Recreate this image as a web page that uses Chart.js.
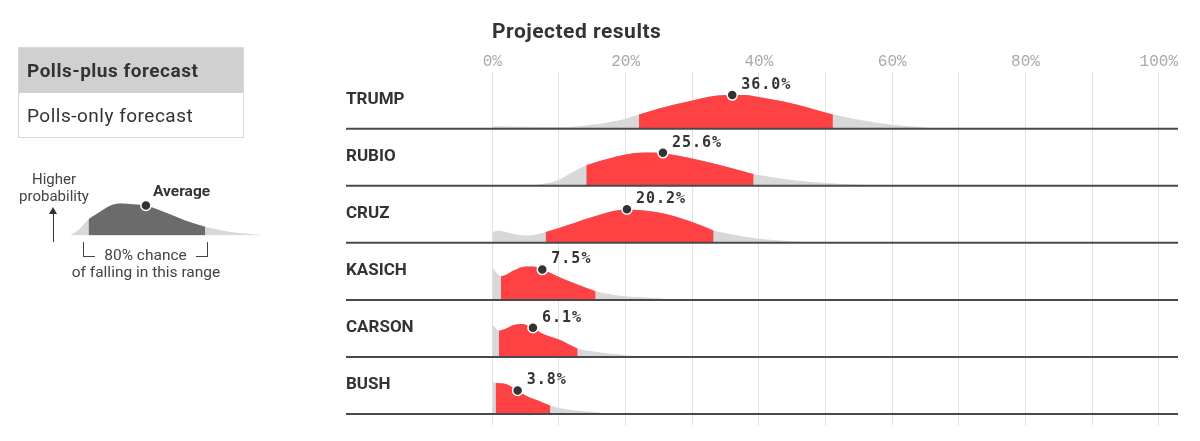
<!DOCTYPE html>
<html>
<head>
<meta charset="utf-8">
<script src="https://cdn.jsdelivr.net/npm/chart.js@4.4.1/dist/chart.umd.min.js"></script>
<style>
  body { margin: 0; background: #fff; font-family: Roboto, "Noto Sans", sans-serif; color: #333; }
  #page { position: relative; width: 1200px; height: 441px; overflow: hidden; }
  #mainChart { position: absolute; left: 0; top: 0; }
  .title { position: absolute; left: 492px; top: 19px; font-size: 21px; font-weight: bold; line-height: 24px; letter-spacing: 0.5px; color: #333; }
  .toggle { position: absolute; left: 18px; top: 47px; width: 224px; border: 1px solid #d9d9d9; }
  .opt { height: 44.5px; line-height: 45px; padding-left: 8px; font-size: 19px; letter-spacing: 0.5px; color: #333; }
  .opt.on { background: #d0d0d0; font-weight: bold; }
  #keyChart { position: absolute; left: 63px; top: 190px; }
  .key-text { position: absolute; font-size: 15px; line-height: 17px; color: #444; text-align: center; }
  .arrow-line { position: absolute; left: 52.5px; top: 213px; width: 1.5px; height: 29px; background: #333; }
  .arrow-head { position: absolute; left: 49.3px; top: 207px; width: 0; height: 0;
    border-left: 4px solid transparent; border-right: 4px solid transparent; border-bottom: 7px solid #333; }
  .bracket { position: absolute; top: 242px; width: 11px; height: 14px; border-bottom: 1.5px solid #444; }
  .bracket.l { left: 83px; border-left: 1.5px solid #444; }
  .bracket.r { left: 196px; border-right: 1.5px solid #444; }
</style>
</head>
<body>
<div id="page">
  <canvas id="mainChart" width="1200" height="441"></canvas>
  <div class="title">Projected results</div>

  <div class="toggle">
    <div class="opt on">Polls-plus forecast</div>
    <div class="opt">Polls-only forecast</div>
  </div>

  <div class="key-text" style="left:9px; top:171px; width:90px;">Higher<br>probability</div>
  <div class="arrow-head"></div>
  <div class="arrow-line"></div>
  <canvas id="keyChart" width="204" height="52"></canvas>
  <div class="key-text" style="left:153px; top:183px; font-weight:bold; font-size:15.5px; color:#333;">Average</div>
  <div class="bracket l"></div>
  <div class="bracket r"></div>
  <div class="key-text" style="left:95px; top:247px; width:101px; font-size:15.5px;">80% chance</div>
  <div class="key-text" style="left:46px; top:264px; width:200px; font-size:15.5px;">of falling in this range</div>
</div>

<script>
// Candidates, top to bottom
const candidates = ["TRUMP", "RUBIO", "CRUZ", "KASICH", "CARSON", "BUSH"];

// Projected vote share (average) and 80% range, in percent
const averages = [36.0, 25.6, 20.2, 7.5, 6.1, 3.8];
const rangeLow = [22.0, 14.1, 8.0, 1.3, 1.0, 0.5];
const rangeHigh = [51.1, 39.2, 33.2, 15.5, 12.8, 8.7];
// relative probability at the average (1 = peak of the row)
const avgDensity = [1.0, 0.98, 1.0, 0.9, 0.87, 0.7];

// Probability curves: vote share (%) and relative probability
const trumpPct = [0, 2, 5, 10, 15, 20, 22, 25, 30, 35, 38, 40, 45, 50, 51.1, 55, 60, 65, 68];
const trumpDensity = [0.07, 0.07, 0.06, 0.05, 0.12, 0.3, 0.42, 0.6, 0.84, 1.0, 1.0, 0.94, 0.75, 0.48, 0.42, 0.27, 0.12, 0.04, 0];

const rubioPct = [4.7, 7.5, 10, 12, 14.1, 15, 20, 22.7, 25.6, 30, 35, 39.2, 40, 45, 50, 55, 58];
const rubioDensity = [0, 0.05, 0.18, 0.4, 0.61, 0.67, 0.93, 0.99, 0.97, 0.81, 0.57, 0.35, 0.32, 0.17, 0.08, 0.03, 0];

const cruzPct = [0, 0.9, 3, 5, 6.5, 8, 10, 15, 20, 25, 30, 33.2, 35, 40, 45, 50];
const cruzDensity = [0.32, 0.37, 0.27, 0.22, 0.24, 0.32, 0.44, 0.77, 0.99, 0.9, 0.62, 0.37, 0.29, 0.12, 0.05, 0];

const kasichPct = [0, 1.3, 1.9, 3.2, 5, 6.1, 7.5, 10, 12.5, 15.5, 20, 25, 27];
const kasichDensity = [0.96, 0.7, 0.73, 0.87, 0.99, 0.99, 0.9, 0.68, 0.48, 0.26, 0.11, 0.05, 0];

const carsonPct = [0, 1.0, 1.9, 3.2, 4.4, 6.1, 7.5, 10, 12.8, 15, 20, 22];
const carsonDensity = [0.98, 0.78, 0.83, 0.95, 0.98, 0.87, 0.7, 0.52, 0.25, 0.17, 0.05, 0];

const bushPct = [0, 0.5, 1.9, 2.9, 3.8, 5, 7.5, 8.7, 10, 15, 18];
const bushDensity = [0.98, 0.92, 0.9, 0.81, 0.7, 0.55, 0.35, 0.25, 0.18, 0.06, 0];

const curvePct = [trumpPct, rubioPct, cruzPct, kasichPct, carsonPct, bushPct];
const curveDensity = [trumpDensity, rubioDensity, cruzDensity, kasichDensity, carsonDensity, bushDensity];

// Axis ticks (gridlines every 10, labels every 20)
const gridTicks = [0, 10, 20, 30, 40, 50, 60, 70, 80, 90, 100];

// Key illustration curve
const keyX = [0, 5, 10, 15, 21.5, 27, 33, 40, 51, 60.6, 71, 83.5, 100];
const keyDensity = [0, 0.19, 0.51, 0.7, 0.94, 1.0, 0.98, 0.94, 0.7, 0.47, 0.27, 0.12, 0.02];
const keyRange = [10, 71];
const keyAverage = 40;
const keyAvgDensity = 0.94;

const colors = {
  red: "#fe4142",
  tail: "#d8d8d8",
  dark: "#333333",
  keyDark: "#6b6b6b",
  baseline: "#4a4a4a",
  grid: "rgba(0, 0, 0, 0.11)",
  tick: "#a8a8a8",
};

const PEAK = 0.59; // curve peak height as share of a row

function rowBase(i) {
  return candidates.length - 1 - i;
}

function buildDatasets() {
  const sets = [];
  candidates.forEach((name, i) => {
    const base = rowBase(i);
    const pts = curvePct[i].map((x, j) => ({ x: x, y: base + curveDensity[i][j] * PEAK }));
    sets.push({
      data: pts,
      fill: { value: base },
      backgroundColor: colors.tail,
      borderColor: "transparent",
      borderWidth: 0,
      pointRadius: 0,
      cubicInterpolationMode: "monotone",
      order: 3,
    });
    sets.push({
      data: pts.filter((p) => p.x >= rangeLow[i] && p.x <= rangeHigh[i]),
      fill: { value: base },
      backgroundColor: colors.red,
      borderColor: "transparent",
      borderWidth: 0,
      pointRadius: 0,
      cubicInterpolationMode: "monotone",
      order: 2,
    });
  });
  sets.push({
    data: candidates.map((n, i) => ({ x: averages[i], y: rowBase(i) + avgDensity[i] * PEAK })),
    showLine: false,
    pointRadius: 5,
    pointBackgroundColor: colors.dark,
    pointBorderColor: "#fff",
    pointBorderWidth: 1.5,
    order: 1,
  });
  return sets;
}

// Row names, baselines and average labels
const rowPlugin = {
  id: "rows",
  afterDraw(chart) {
    const ctx = chart.ctx;
    const area = chart.chartArea;
    const x = chart.scales.x;
    const y = chart.scales.y;
    ctx.save();
    candidates.forEach((name, i) => {
      const by = y.getPixelForValue(rowBase(i));
      ctx.strokeStyle = colors.baseline;
      ctx.lineWidth = 2;
      ctx.beginPath();
      ctx.moveTo(area.left, by);
      ctx.lineTo(area.right, by);
      ctx.stroke();

      ctx.fillStyle = colors.dark;
      ctx.font = "bold 17px Roboto, sans-serif";
      ctx.textAlign = "left";
      ctx.textBaseline = "middle";
      ctx.letterSpacing = "0px";
      ctx.fillText(name, area.left, by - 29);

      const px = x.getPixelForValue(averages[i]);
      const py = y.getPixelForValue(rowBase(i) + avgDensity[i] * PEAK);
      ctx.font = "bold 15px 'DejaVu Sans Mono', monospace";
      ctx.letterSpacing = "1px";
      ctx.fillText(averages[i].toFixed(1) + "%", px + 9, py - 10);
    });
    ctx.restore();
  },
};

function initMainChart() {
  const el = document.getElementById("mainChart");
  new Chart(el, {
    type: "line",
    data: { datasets: buildDatasets() },
    options: {
      responsive: false,
      animation: false,
      layout: { padding: { left: 346, right: 22, top: 52.5, bottom: 15.6 } },
      scales: {
        x: {
          type: "linear",
          position: "top",
          min: -21.95,
          max: 102.88,
          z: 1,
          afterBuildTicks: (axis) => {
            axis.ticks = gridTicks.map((v) => ({ value: v }));
          },
          ticks: {
            autoSkip: false,
            maxRotation: 0,
            padding: 0,
            color: colors.tick,
            font: { family: "'Liberation Mono', monospace", size: 16 },
            callback: (v) => (v % 20 === 0 ? v + "%" : ""),
          },
          grid: { color: colors.grid, drawTicks: false },
          border: { display: false },
        },
        y: { type: "linear", display: false, min: -0.2, max: 6 },
      },
      plugins: {
        legend: { display: false },
        tooltip: { enabled: false },
      },
    },
    plugins: [rowPlugin],
  });
}

function initKeyChart() {
  const el = document.getElementById("keyChart");
  const pts = keyX.map((x, j) => ({ x: x, y: keyDensity[j] }));
  new Chart(el, {
    type: "line",
    data: {
      datasets: [
        {
          data: pts,
          fill: { value: 0 },
          backgroundColor: colors.tail,
          borderColor: "transparent",
          borderWidth: 0,
          pointRadius: 0,
          cubicInterpolationMode: "monotone",
          order: 3,
        },
        {
          data: pts.filter((p) => p.x >= keyRange[0] && p.x <= keyRange[1]),
          fill: { value: 0 },
          backgroundColor: colors.keyDark,
          borderColor: "transparent",
          borderWidth: 0,
          pointRadius: 0,
          cubicInterpolationMode: "monotone",
          order: 2,
        },
        {
          data: [{ x: keyAverage, y: keyAvgDensity }],
          showLine: false,
          pointRadius: 5,
          pointBackgroundColor: colors.dark,
          pointBorderColor: "#fff",
          pointBorderWidth: 1.5,
          clip: false,
          order: 1,
        },
      ],
    },
    options: {
      responsive: false,
      animation: false,
      layout: { padding: 0 },
      scales: {
        x: { type: "linear", display: false, min: 0, max: 100 },
        y: { type: "linear", display: false, min: 0, max: 1.22 },
      },
      plugins: { legend: { display: false }, tooltip: { enabled: false } },
    },
  });
}

initMainChart();
initKeyChart();
</script>
</body>
</html>
